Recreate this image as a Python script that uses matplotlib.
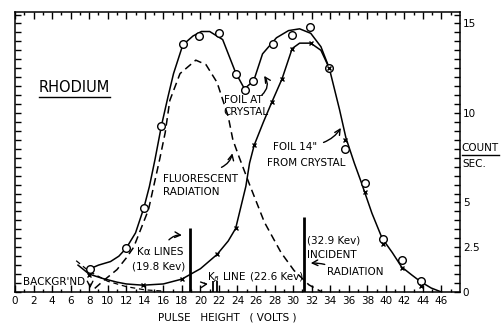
import numpy as np
import matplotlib
matplotlib.use("Agg")
import matplotlib.pyplot as plt
from matplotlib.lines import Line2D

plt.rcParams['font.family'] = ['DejaVu Sans']

# foil at crystal: measured points (circles) and the drawn curve
circ_x = [8.1, 12.0, 13.9, 15.8, 18.1, 19.8, 22.0, 23.8, 24.8, 25.7, 27.8, 29.9, 31.8, 33.9, 35.6, 37.7, 39.7, 41.7, 43.8]
circ_y = [1.3, 2.45, 4.7, 9.3, 13.85, 14.3, 14.45, 12.2, 11.3, 11.8, 13.85, 14.35, 14.8, 12.5, 8.0, 6.1, 2.95, 1.8, 0.6]
curve_a_x = [8.1, 9.0, 10.3, 11.2, 12.0, 13.0, 13.9, 14.5, 15.1, 15.8, 16.5, 17.1, 18.1, 19.2, 20.1, 21.0,
             22.4, 23.8, 24.75, 25.75, 26.7, 28.2, 29.5, 30.7, 31.9, 33.0, 33.9, 35.0, 35.7, 36.6, 37.3,
             37.7, 38.5, 39.6, 40.7, 41.7, 42.8, 43.8, 44.9, 46.0]
curve_a_y = [1.3, 1.5, 1.7, 2.0, 2.45, 3.3, 4.7, 5.9, 7.4, 9.3, 10.9, 12.2, 13.8, 14.3, 14.55, 14.55,
             14.1, 12.25, 11.35, 11.8, 13.3, 14.2, 14.6, 14.7, 14.45, 13.7, 12.5, 10.2, 8.6, 7.2, 6.2,
             5.6, 4.4, 3.0, 2.2, 1.4, 0.95, 0.56, 0.22, 0.0]

# foil 14" from crystal: measured points (x) and the drawn curve
xm_x = [8.0, 13.8, 18.0, 21.8, 23.8, 25.8, 27.7, 28.8, 29.9, 31.9, 33.9, 35.6, 37.7, 39.7, 41.7, 43.8]
xm_y = [0.95, 0.4, 0.72, 2.1, 3.6, 8.2, 10.6, 11.9, 13.6, 13.9, 12.5, 8.5, 5.6, 2.7, 1.35, 0.35]
curve_b_x = [6.8, 8.0, 9.5, 11.0, 12.0, 13.8, 16.0, 18.0, 20.0, 21.8, 23.0, 23.8, 24.9, 25.3, 25.8,
             26.8, 27.7, 28.8, 29.9, 30.7, 31.9, 33.0, 33.9]
curve_b_y = [1.5, 1.0, 0.75, 0.55, 0.45, 0.38, 0.45, 0.72, 1.3, 2.1, 2.85, 3.55, 5.9, 7.2, 8.2,
             9.5, 10.6, 11.9, 13.6, 13.9, 13.9, 13.5, 12.5]

# fluorescent radiation (dashed)
fluor_x = [8.6, 9.7, 11.0, 12.0, 12.8, 14.4, 15.6, 16.2, 16.7, 17.8, 19.5, 20.6, 21.8, 23.0, 23.5,
           24.2, 25.3, 26.9, 28.7, 30.1, 31.7, 33.1]
fluor_y = [0.2, 0.7, 1.25, 1.9, 2.5, 4.6, 7.4, 8.9, 10.7, 12.2, 12.95, 12.7, 11.7, 9.8, 8.5,
           7.5, 6.0, 3.9, 2.2, 1.2, 0.4, 0.0]

# background (dashed)
bg_x = [6.6, 8.0, 10.0, 12.0, 14.0, 16.0]
bg_y = [1.75, 1.15, 0.6, 0.3, 0.12, 0.05]

# spectral lines: Ka, Kb (two), incident
line_x = [18.85, 21.35, 21.75, 31.2]
line_h = [3.6, 0.6, 0.6, 4.2]
line_w = [2.0, 1.3, 1.3, 2.0]

x_ticks = list(range(0, 47, 2))
y_labels = {0: "0", 2.5: "2.5", 5: "5", 10: "10", 15: "15"}

fig = plt.figure(figsize=(5.03, 3.24), dpi=100)
ax = fig.add_axes([15 / 503, 1 - 292 / 324, 445 / 503, 280 / 324])
ax.set_xlim(0, 48)
ax.set_ylim(0, 15.64)

ax.plot(curve_a_x, curve_a_y, color='black', lw=1.1)
ax.plot(curve_b_x, curve_b_y, color='black', lw=1.1)
ax.plot(fluor_x, fluor_y, color='black', lw=1.1, dashes=(5, 3))
ax.plot(bg_x, bg_y, color='black', lw=0.9, dashes=(4, 3))
ax.plot(circ_x, circ_y, 'o', ms=5.5, mfc='white', mec='black', mew=1.0)
ax.plot(xm_x, xm_y, 'x', ms=3.5, color='black', mew=1.0)
for x, h, w in zip(line_x, line_h, line_w):
    ax.vlines(x, 0, h, color='black', lw=w)

# ticks
ax.set_xticks(x_ticks)
ax.set_xticks(range(0, 48), minor=True)
yt = np.arange(0, 15.6, 0.5)
ax.set_yticks(yt)
ax.set_yticklabels([y_labels.get(v, "") for v in yt])
ax.tick_params(axis='x', which='major', direction='in', top=True, length=5, width=1, labelsize=7.5, pad=3)
ax.tick_params(axis='x', which='minor', direction='in', top=True, length=2.5, width=1)
ax.tick_params(axis='y', direction='in', left=True, right=True, labelleft=False, labelright=True,
               length=4, width=1, labelsize=7.5, pad=2)
for s in ax.spines.values():
    s.set_linewidth(1.1)

fs = 7.5
ax.text(2.56, 11.42, "RHODIUM", fontsize=10.5, va='center', ha='left')
ax.text(22.5, 10.4, "FOIL AT\nCRYSTAL", fontsize=fs, va='center', ha='left', linespacing=1.3)
ax.text(27.8, 8.1, 'FOIL 14"', fontsize=fs, va='center', ha='left')
ax.text(27.2, 7.2, "FROM CRYSTAL", fontsize=fs, va='center', ha='left')
ax.text(15.95, 5.95, "FLUORESCENT\nRADIATION", fontsize=fs, va='center', ha='left', linespacing=1.4)
ax.text(13.15, 2.23, "K\u03b1 LINES", fontsize=fs, va='center', ha='left')
ax.text(12.6, 1.4, "(19.8 Kev)", fontsize=fs, va='center', ha='left')
ax.text(0.9, 0.56, "BACKGR'ND", fontsize=fs, va='center', ha='left')
ax.text(20.7, 0.8, r"K$_\beta$ LINE", fontsize=fs, va='center', ha='left')
ax.text(25.3, 0.84, "(22.6 Kev)", fontsize=fs, va='center', ha='left')
ax.text(31.5, 2.9, "(32.9 Kev)", fontsize=fs, va='center', ha='left')
ax.text(31.5, 2.07, "INCIDENT", fontsize=fs, va='center', ha='left')
ax.text(33.7, 1.12, "RADIATION", fontsize=fs, va='center', ha='left')
t_count = ax.text(48.2, 8.04, "COUNT", fontsize=fs, va='center', ha='left', clip_on=False)
ax.text(48.3, 7.15, "SEC.", fontsize=fs, va='center', ha='left', clip_on=False)
fig.text(227 / 503, 1 - 318 / 324, "PULSE   HEIGHT   ( VOLTS )", fontsize=fs, ha='center', va='center')

t_rh = ax.texts[0]

arrow = dict(arrowstyle='->', color='black', lw=1.0)
ax.annotate("", xy=(18.3, 3.15), xytext=(16.4, 2.8), arrowprops=dict(arrow, connectionstyle="arc3,rad=-0.3"))
ax.annotate("", xy=(31.6, 1.6), xytext=(33.7, 1.5), arrowprops=dict(arrow, connectionstyle="arc3,rad=0.1"))
ax.annotate("", xy=(26.7, 12.2), xytext=(26.4, 10.9), arrowprops=dict(arrow, connectionstyle="arc3,rad=0.5"))
ax.annotate("", xy=(35.3, 9.3), xytext=(33.0, 8.3), arrowprops=dict(arrow, connectionstyle="arc3,rad=0.2"))
ax.annotate("", xy=(23.5, 7.9), xytext=(22.0, 6.9), arrowprops=dict(arrow, connectionstyle="arc3,rad=0.3"))
ax.annotate("", xy=(8.1, 0.05), xytext=(8.1, 0.6), arrowprops=dict(arrow))
ax.annotate("", xy=(21.1, 0.5), xytext=(20.2, 0.6), arrowprops=dict(arrow, connectionstyle="arc3,rad=0.4"))

# underline titles
fig.canvas.draw()
for t in (t_rh, t_count):
    bb = t.get_window_extent()
    y = bb.y0 - 1.5
    fig.add_artist(Line2D([bb.x0 / fig.dpi / fig.get_figwidth(), bb.x1 / fig.dpi / fig.get_figwidth()],
                          [y / fig.dpi / fig.get_figheight()] * 2, color='black', lw=1.0))

fig.savefig("out.png", dpi=100)
